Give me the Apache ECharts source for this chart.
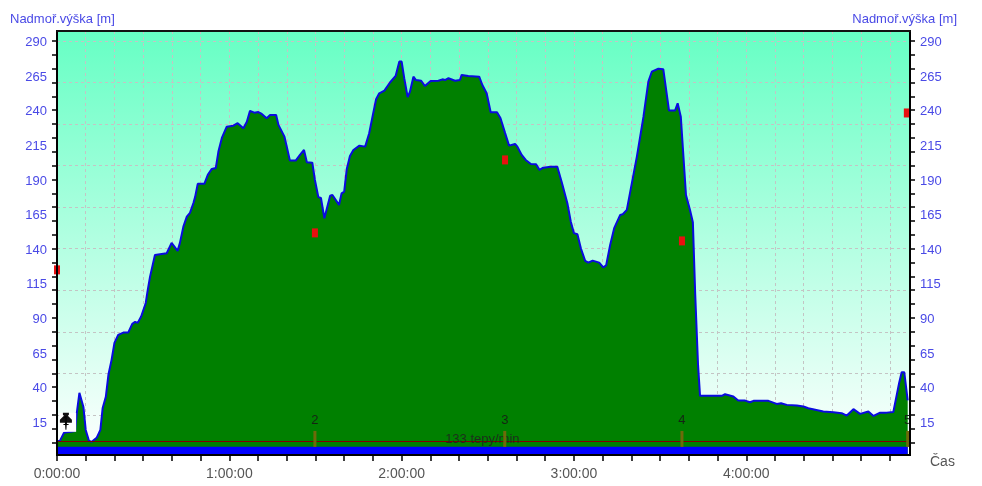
<!DOCTYPE html>
<html>
<head>
<meta charset="utf-8">
<title>Nadmořská výška</title>
<style>
  html, body { margin: 0; padding: 0; background: #fff; }
  #main { width: 982px; height: 486px; }
</style>
<script src="https://cdn.jsdelivr.net/npm/echarts@6/dist/echarts.min.js"></script>
</head>
<body>
<div id="main"></div>
<script>
// elapsed time in minutes, elevation in metres, same length
var timeMin = [
  0, 1, 2.4, 6.3, 6.9, 7.8, 9.2, 10, 11.1, 12.1, 13.8, 15.1, 15.9, 17, 17.9, 19, 20, 21.3, 23.1, 24.8,
  26.2, 27.2, 28.1, 29.3, 30.9, 31.6, 32.4, 34.1, 38.2, 39.9, 42, 42.8, 44, 45.2, 46.3, 47.5, 48.1, 49, 51.3, 52.5,
  53.9, 55.3, 56.2, 57.4, 59.1, 61.4, 62.9, 64.9, 66.1, 67.2, 68.7, 70.1, 71.3, 73, 74.2, 76.3, 77.1, 79.2, 80, 81.1,
  83.1, 84.6, 86, 87, 88.9, 89.8, 91, 91.9, 93.1, 95.1, 95.9, 98.2, 99.1, 100, 100.9, 102, 103.2, 105.3, 107.3, 108.7,
  110.1, 111.1, 112.2, 114, 116, 117.9, 119.2, 120, 120.9, 122.1, 122.9, 124.1, 125, 126.8, 128.1, 130.1, 132.8, 134.2, 135.1, 136.3,
  138.6, 140.3, 140.9, 143.2, 147, 148.1, 149.6, 151, 153.2, 154.4, 156, 157.4, 158, 159.5, 160.3, 161.8, 163.2, 165, 166.8, 168,
  169.3, 171.9, 174.2, 175.7, 177.7, 178.9, 180, 181.2, 182.4, 183.9, 185, 186.5, 188.8, 190.2, 191.2, 192.6, 194, 196.1, 197, 198.4,
  201.9, 204.2, 205.9, 207.1, 209.4, 211.1, 213.1, 215.2, 216.1, 217.2, 219, 220.4, 221.4, 222.2, 223.2, 223.9, 231.5, 232.6, 235.5, 237.2,
  239.6, 240.2, 241.3, 242.5, 247.7, 250.6, 252.1, 254.1, 257.6, 259.9, 261.6, 266.8, 270.3, 273.2, 275, 277.3, 279.6, 282.5, 284.3, 286.6,
  288.9, 291.2, 293.2, 294.1, 295, 296.2
];
var elevation = [
  1.2, 1.2, 7, 8.4, 21.4, 35.9, 25.7, 9.1, 1.4, 0.5, 3.4, 9.1, 25, 33, 48.9, 59.7, 72, 77.7, 79.4, 79.4,
  85.7, 87.1, 86.4, 91, 100.8, 110.2, 119.8, 135.5, 136.7, 144.2, 138.4, 144.2, 155.9, 163.1, 165.8, 173, 177.4, 186.8, 186.8, 193.3,
  197.6, 198.3, 210.1, 220, 228.1, 228.8, 230.6, 227, 231.7, 239.5, 238.2, 238.7, 237.3, 234.2, 236.6, 236.6, 229.4, 220.9, 213.7, 203.6,
  203.6, 207.7, 211.3, 202.4, 202.1, 189.6, 177.2, 176.6, 162, 178.3, 178.8, 171.6, 180, 181.2, 197.6, 207, 211.3, 214.4, 213.7, 223.4,
  237.8, 247.9, 252.2, 254.1, 260.2, 264.7, 275.1, 275.1, 263.1, 249.4, 253.4, 264.2, 261.8, 261.3, 257.5, 261.1, 261.3, 262.3, 261.8, 263.1,
  261.3, 261.8, 265.5, 264.7, 264.2, 258.2, 252.2, 238.5, 238.5, 234.4, 223.6, 214.4, 213.7, 215.6, 213.7, 207.7, 204.1, 201.2, 201, 196.9,
  198.5, 199.2, 199.2, 188.4, 172.8, 159.5, 151.2, 150.4, 140.3, 131.2, 129.9, 131.4, 129.9, 126.5, 127.9, 142.7, 154.8, 164.4, 164.9, 168,
  206.5, 235.3, 260.6, 267.8, 270, 269.6, 239.7, 239.7, 245, 235.3, 178.8, 168, 159.1, 107.8, 56.1, 33.7, 33.7, 34.9, 33.2, 30.3,
  30.3, 31.3, 29.1, 30.1, 30.1, 27.9, 28.4, 27.2, 26.7, 26, 24.8, 22.4, 21.9, 21.2, 19.5, 24.1, 20.7, 22.4, 19.2, 21.6,
  21.6, 22.1, 42.9, 50.8, 50.8, 30.4
];

// lap marks
var lapTimes = [89.8, 155.9, 217.6, 296.2];
var lapNames = ['2', '3', '4', '5'];
var lapRedTimes = [0, 89.8, 156, 217.6, 295.9];
var lapRedValues = [124.7, 151.4, 204.1, 145.6, 238];

var endTime = 296.2;
var avgHeartRate = 0.8;
var avgHeartLabel = '133 tepy/min';
var bandTop = -3.1;

// axis values
var yLabelValues = [15, 40, 65, 90, 115, 140, 165, 190, 215, 240, 265, 290];
var yTickValues = [0, 10, 20, 30, 40, 50, 60, 70, 80, 90, 100, 110, 120, 130, 140, 150, 160, 170, 180, 190, 200, 210, 220, 230, 240, 250, 260, 270, 280, 290];
var yGridValues = [20, 50, 80, 110, 140, 170, 200, 230, 260, 290];
var xLabelValues = [0, 60, 120, 180, 240];
var xTickValues = [0, 10, 20, 30, 40, 50, 60, 70, 80, 90, 100, 110, 120, 130, 140, 150, 160, 170, 180, 190, 200, 210, 220, 230, 240, 250, 260, 270, 280, 290];
var xGridValues = xTickValues.slice(1);

var FONT = 'Liberation Sans, Arial, sans-serif';
var BLUE_TEXT = '#4a4ae6';
var GREY_TEXT = '#555555';

function zip(a, b) {
  return a.map(function (v, i) { return [v, b[i]]; });
}

function clock(min) {
  return Math.floor(min / 60) + ':' + String(min % 60).padStart(2, '0') + ':00';
}

function elevationAxis(position) {
  return {
    type: 'value',
    position: position,
    min: -9,
    max: 297.2,
    z: 10,
    axisLine: { show: true, onZero: false, lineStyle: { color: '#000', width: 2 } },
    axisTick: { show: true, length: 5, customValues: yTickValues, lineStyle: { color: '#000', width: 1.5 } },
    // labels sit a little under their value in the original
    axisLabel: { customValues: yLabelValues, margin: 10, color: BLUE_TEXT, fontSize: 13, fontFamily: FONT, verticalAlign: 'top', lineHeight: 3 },
    splitLine: { show: false }
  };
}

var gridLine = { show: true, lineStyle: { color: '#c4c4c4', width: 1, type: [3, 3] } };

var myChart = echarts.init(document.getElementById('main'));

var option = {
  animation: false,
  title: [
    { text: 'Nadmoř.výška [m]', left: 10, top: 13, padding: 0, textStyle: { color: BLUE_TEXT, fontSize: 13, fontWeight: 'normal', fontFamily: FONT } },
    { text: 'Nadmoř.výška [m]', right: 25, top: 13, padding: 0, textStyle: { color: BLUE_TEXT, fontSize: 13, fontWeight: 'normal', fontFamily: FONT } }
  ],
  grid: {
    left: 57,
    right: 72,
    top: 31,
    bottom: 31,
    show: true,
    borderColor: '#111',
    borderWidth: 2,
    backgroundColor: new echarts.graphic.LinearGradient(0, 0, 0, 1, [
      { offset: 0, color: '#66ffc4' },
      { offset: 1, color: '#ffffff' }
    ])
  },
  xAxis: [
    {
      type: 'value',
      min: 0,
      max: 297,
      z: 10,
      name: 'Čas',
      nameLocation: 'end',
      nameGap: 20,
      nameTextStyle: { color: GREY_TEXT, fontSize: 14, fontFamily: FONT, verticalAlign: 'top' },
      axisLine: { show: true, onZero: false, lineStyle: { color: '#000', width: 2 } },
      axisTick: { show: true, length: 6, customValues: xTickValues, lineStyle: { color: '#000', width: 1.5 } },
      axisLabel: { customValues: xLabelValues, margin: 12, color: GREY_TEXT, fontSize: 14, fontFamily: FONT, formatter: clock },
      splitLine: { show: false }
    },
    {
      // only draws the vertical dashed lines
      type: 'value',
      position: 'bottom',
      min: 0,
      max: 297,
      axisLine: { show: false, onZero: false },
      axisTick: { show: false, customValues: xGridValues },
      axisLabel: { show: false },
      splitLine: gridLine
    },
    {
      // top border, above the dashed lines
      type: 'value',
      position: 'top',
      min: 0,
      max: 297,
      z: 10,
      axisLine: { show: true, onZero: false, lineStyle: { color: '#111', width: 2 } },
      axisTick: { show: false },
      axisLabel: { show: false },
      splitLine: { show: false }
    }
  ],
  yAxis: [
    elevationAxis('left'),
    elevationAxis('right'),
    {
      // only draws the horizontal dashed lines
      type: 'value',
      position: 'left',
      min: -9,
      max: 297.2,
      axisLine: { show: false, onZero: false },
      axisTick: { show: false, customValues: yGridValues },
      axisLabel: { show: false },
      splitLine: gridLine
    }
  ],
  series: [
    {
      name: 'Nadmoř.výška',
      type: 'line',
      z: 3,
      showSymbol: false,
      data: zip(timeMin, elevation),
      lineStyle: { color: '#0a0ae0', width: 2 },
      areaStyle: { color: '#008000', opacity: 1, origin: 'start' }
    },
    {
      name: 'band',
      type: 'line',
      z: 4,
      showSymbol: false,
      data: [[0, bandTop], [endTime, bandTop]],
      lineStyle: { width: 0 },
      areaStyle: { color: '#0000ff', opacity: 1, origin: 'start' },
      markLine: {
        silent: true,
        symbol: 'none',
        lineStyle: { color: '#800000', width: 1, type: 'solid' },
        label: {
          show: true,
          position: 'middle',
          distance: -4,
          formatter: avgHeartLabel,
          color: '#1c2c1c',
          fontSize: 13,
          fontFamily: FONT
        },
        data: [[{ coord: [0, avgHeartRate] }, { coord: [endTime, avgHeartRate] }]]
      }
    },
    {
      name: 'laps',
      type: 'scatter',
      z: 5,
      symbol: 'rect',
      symbolSize: [3, 16],
      itemStyle: { color: '#6e6a0a', opacity: 1 },
      data: lapTimes.map(function (t, i) {
        return { value: [t, 2.6], name: lapNames[i] };
      }),
      label: {
        show: true,
        position: 'top',
        distance: 4,
        formatter: '{b}',
        color: '#142414',
        fontSize: 13,
        fontFamily: FONT
      }
    },
    {
      name: 'laps hr',
      type: 'scatter',
      z: 5,
      symbol: 'rect',
      symbolSize: [6, 9],
      itemStyle: { color: '#e81010', opacity: 1 },
      data: zip(lapRedTimes, lapRedValues)
    },
    {
      // first lap sits behind the pin icon on a white patch
      name: 'start patch',
      type: 'scatter',
      z: 6,
      symbol: 'rect',
      symbolSize: [17, 19],
      itemStyle: { color: '#ffffff', opacity: 1 },
      data: [[3.7, 14.6]]
    },
    {
      name: 'start pin',
      type: 'scatter',
      z: 7,
      symbol: 'path://M3 0h6v2l-1 1 1 1 3 3v3H7l-.5 7h-1L5 10H0V7l3-3 1-1-1-1z',
      symbolSize: [12, 17],
      itemStyle: { color: '#111', opacity: 1 },
      label: { show: true, position: 'inside', formatter: '1', color: '#000', fontSize: 12, fontFamily: FONT },
      data: [[3.1, 15.4]]
    }
  ]
};

myChart.setOption(option);
</script>
</body>
</html>
